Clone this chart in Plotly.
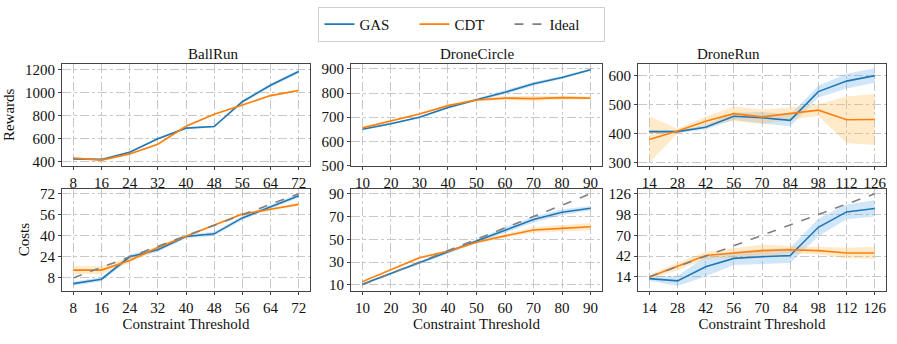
import plotly.graph_objects as go
from plotly.subplots import make_subplots

W, H = 897, 344

GAS_BLUE = "#1f77b4"
CDT_ORANGE = "#ff7f0e"
IDEAL_GRAY = "#808080"
GAS_BAND = "rgba(90,165,235,0.28)"
CDT_BAND = "rgba(255,185,80,0.30)"
FONT = "Times New Roman, Liberation Serif, DejaVu Serif, serif"
TXT = {"family": FONT, "size": 15, "color": "#111111"}

ENVS = ["BallRun", "DroneCircle", "DroneRun"]

# thresholds per env
th_ballrun = [8, 16, 24, 32, 40, 48, 56, 64, 72]
th_dronecircle = [10, 20, 30, 40, 50, 60, 70, 80, 90]
th_dronerun = [14, 28, 42, 56, 70, 84, 98, 112, 126]

# rewards
rew_gas_ballrun = [424, 420, 483, 600, 692, 706, 922, 1065, 1185]
rew_gas_ballrun_err = [6, 6, 8, 8, 8, 8, 12, 15, 15]
rew_cdt_ballrun = [432, 414, 468, 552, 708, 812, 893, 975, 1020]
rew_cdt_ballrun_err = [8, 8, 8, 8, 8, 8, 10, 10, 10]

rew_gas_dronecircle = [650, 673, 700, 740, 772, 803, 838, 864, 896]
rew_gas_dronecircle_err = [4, 4, 4, 5, 6, 8, 8, 6, 5]
rew_cdt_dronecircle = [656, 686, 713, 748, 771, 779, 777, 781, 779]
rew_cdt_dronecircle_err = [4, 4, 4, 5, 6, 8, 10, 8, 6]

rew_gas_dronerun = [407, 407, 422, 460, 455, 446, 545, 581, 600]
rew_gas_dronerun_err = [5, 5, 8, 12, 20, 20, 20, 25, 25]
rew_cdt_dronerun = [380, 409, 443, 469, 458, 470, 481, 448, 449]
rew_cdt_dronerun_err = [80, 8, 15, 25, 25, 20, 20, 80, 88]

# costs
cost_gas_ballrun = [3.6, 7.0, 24.0, 29.4, 39.5, 41.5, 53.6, 62.0, 70.5]
cost_gas_ballrun_err = [1.5, 1.5, 2.0, 1.5, 1.5, 1.5, 1.5, 1.5, 1.5]
cost_cdt_ballrun = [13.9, 13.9, 21.3, 31.1, 39.7, 48.4, 56.5, 60.2, 63.9]
cost_cdt_ballrun_err = [3.0, 3.0, 2.0, 1.5, 1.0, 1.0, 1.0, 1.0, 1.0]

cost_gas_dronecircle = [10.6, 20.0, 29.6, 39.0, 48.3, 58.2, 67.3, 73.8, 77.2]
cost_gas_dronecircle_err = [1.0, 1.0, 1.0, 1.2, 1.5, 2.5, 2.5, 2.5, 2.0]
cost_cdt_dronecircle = [12.8, 23.3, 33.8, 39.5, 47.4, 53.0, 58.2, 59.6, 61.0]
cost_cdt_dronecircle_err = [1.0, 1.0, 1.0, 1.0, 1.2, 1.5, 2.5, 3.0, 3.0]

cost_gas_dronerun = [11.8, 8.8, 27.8, 39.0, 41.2, 42.9, 80.8, 101.5, 106.2]
cost_gas_dronerun_err = [3, 7, 13, 9, 10, 10, 12, 10, 11]
cost_cdt_dronerun = [14.0, 28.2, 42.9, 46.3, 49.4, 50.6, 49.4, 46.3, 46.3]
cost_cdt_dronerun_err = [3, 5, 5, 6, 8, 5, 5, 7, 8]

THRESHOLDS = [th_ballrun, th_dronecircle, th_dronerun]
REWARDS = [
    (rew_gas_ballrun, rew_gas_ballrun_err, rew_cdt_ballrun, rew_cdt_ballrun_err),
    (rew_gas_dronecircle, rew_gas_dronecircle_err, rew_cdt_dronecircle, rew_cdt_dronecircle_err),
    (rew_gas_dronerun, rew_gas_dronerun_err, rew_cdt_dronerun, rew_cdt_dronerun_err),
]
COSTS = [
    (cost_gas_ballrun, cost_gas_ballrun_err, cost_cdt_ballrun, cost_cdt_ballrun_err),
    (cost_gas_dronecircle, cost_gas_dronecircle_err, cost_cdt_dronecircle, cost_cdt_dronecircle_err),
    (cost_gas_dronerun, cost_gas_dronerun_err, cost_cdt_dronerun, cost_cdt_dronerun_err),
]

# axis setup
X_RANGES = [[4.8, 75.2], [6.0, 94.0], [8.4, 131.6]]
REW_RANGES = [[366, 1250], [500, 920], [290, 640]]
REW_TICKS = [[400, 600, 800, 1000, 1200], [500, 600, 700, 800, 900], [300, 400, 500, 600]]
COST_RANGES = [[-1.6, 75.7], [5.0, 94.3], [-4.2, 132.5]]
COST_TICKS = [[8, 24, 40, 56, 72], [10, 30, 50, 70, 90], [14, 42, 70, 98, 126]]

# pixel boxes of the panels
X_PX = [(62, 310), (351, 602), (638, 886)]
Y_PX = [(63, 168), (192, 297)]


def band(fig, x, mean, err, color, row, col):
    upper = [m + e for m, e in zip(mean, err)]
    lower = [m - e for m, e in zip(mean, err)]
    fig.add_trace(
        go.Scatter(
            x=list(x) + list(x)[::-1],
            y=upper + lower[::-1],
            mode="lines",
            fill="toself",
            fillcolor=color,
            line={"width": 0},
            hoverinfo="skip",
            showlegend=False,
        ),
        row=row,
        col=col,
    )


fig = make_subplots(rows=2, cols=3)

for c in range(3):
    x = THRESHOLDS[c]
    for r, data in ((1, REWARDS[c]), (2, COSTS[c])):
        gas, gas_err, cdt, cdt_err = data
        band(fig, x, gas, gas_err, GAS_BAND, r, c + 1)
        band(fig, x, cdt, cdt_err, CDT_BAND, r, c + 1)
        first = r == 1 and c == 0
        fig.add_trace(
            go.Scatter(x=x, y=gas, mode="lines", name="GAS",
                       line={"color": GAS_BLUE, "width": 1.6}, showlegend=first),
            row=r, col=c + 1,
        )
        fig.add_trace(
            go.Scatter(x=x, y=cdt, mode="lines", name="CDT",
                       line={"color": CDT_ORANGE, "width": 1.6}, showlegend=first),
            row=r, col=c + 1,
        )
        if r == 2:
            fig.add_trace(
                go.Scatter(x=x, y=x, mode="lines", name="Ideal",
                           line={"color": IDEAL_GRAY, "width": 1.6, "dash": "dash"},
                           showlegend=(c == 0)),
                row=r, col=c + 1,
            )

axis_style = dict(
    showline=True,
    linecolor="#444444",
    linewidth=1.2,
    mirror=True,
    ticks="outside",
    ticklen=3,
    tickcolor="#444444",
    showgrid=True,
    gridcolor="#c8c8c8",
    griddash="dashdot",
    gridwidth=0.8,
    zeroline=False,
    tickfont=TXT,
)

for r in range(2):
    for c in range(3):
        idx = r * 3 + c + 1
        xa = "xaxis" if idx == 1 else f"xaxis{idx}"
        ya = "yaxis" if idx == 1 else f"yaxis{idx}"
        x0, x1 = X_PX[c]
        y0, y1 = Y_PX[r]
        fig.layout[xa].update(
            domain=[x0 / W, x1 / W],
            range=X_RANGES[c],
            tickmode="array",
            tickvals=THRESHOLDS[c],
            **axis_style,
        )
        fig.layout[ya].update(
            domain=[1 - y1 / H, 1 - y0 / H],
            range=REW_RANGES[c] if r == 0 else COST_RANGES[c],
            tickmode="array",
            tickvals=REW_TICKS[c] if r == 0 else COST_TICKS[c],
            **axis_style,
        )
        if r == 1:
            fig.layout[xa].title = {"text": "Constraint Threshold", "font": TXT, "standoff": 2}

fig.layout.yaxis.title = {"text": "Rewards", "font": TXT, "standoff": 6}
fig.layout.yaxis4.title = {"text": "Costs", "font": TXT, "standoff": 6}

for c, name in enumerate(ENVS):
    x0, x1 = X_PX[c]
    fig.add_annotation(
        text=name,
        x=(x0 + x1) / 2 / W,
        y=1 - 53 / H,
        xref="paper",
        yref="paper",
        showarrow=False,
        yanchor="middle",
        font=TXT,
    )

fig.update_layout(
    width=W,
    height=H,
    margin={"l": 0, "r": 0, "t": 0, "b": 0},
    paper_bgcolor="white",
    plot_bgcolor="white",
    font=TXT,
    showlegend=True,
    legend={
        "orientation": "h",
        "x": 0.515,
        "xanchor": "center",
        "y": 1 - 4 / H,
        "yanchor": "top",
        "bordercolor": "#d0d0d0",
        "borderwidth": 1,
        "font": TXT,
        "itemwidth": 30,
        "entrywidth": 50,
        "traceorder": "normal",
    },
)

# page body has a default 8px margin; drop it so the figure sits at 0,0
fig.write_html(
    "out.html",
    config={"displayModeBar": False},
    post_script="document.body.style.margin='0';",
)
